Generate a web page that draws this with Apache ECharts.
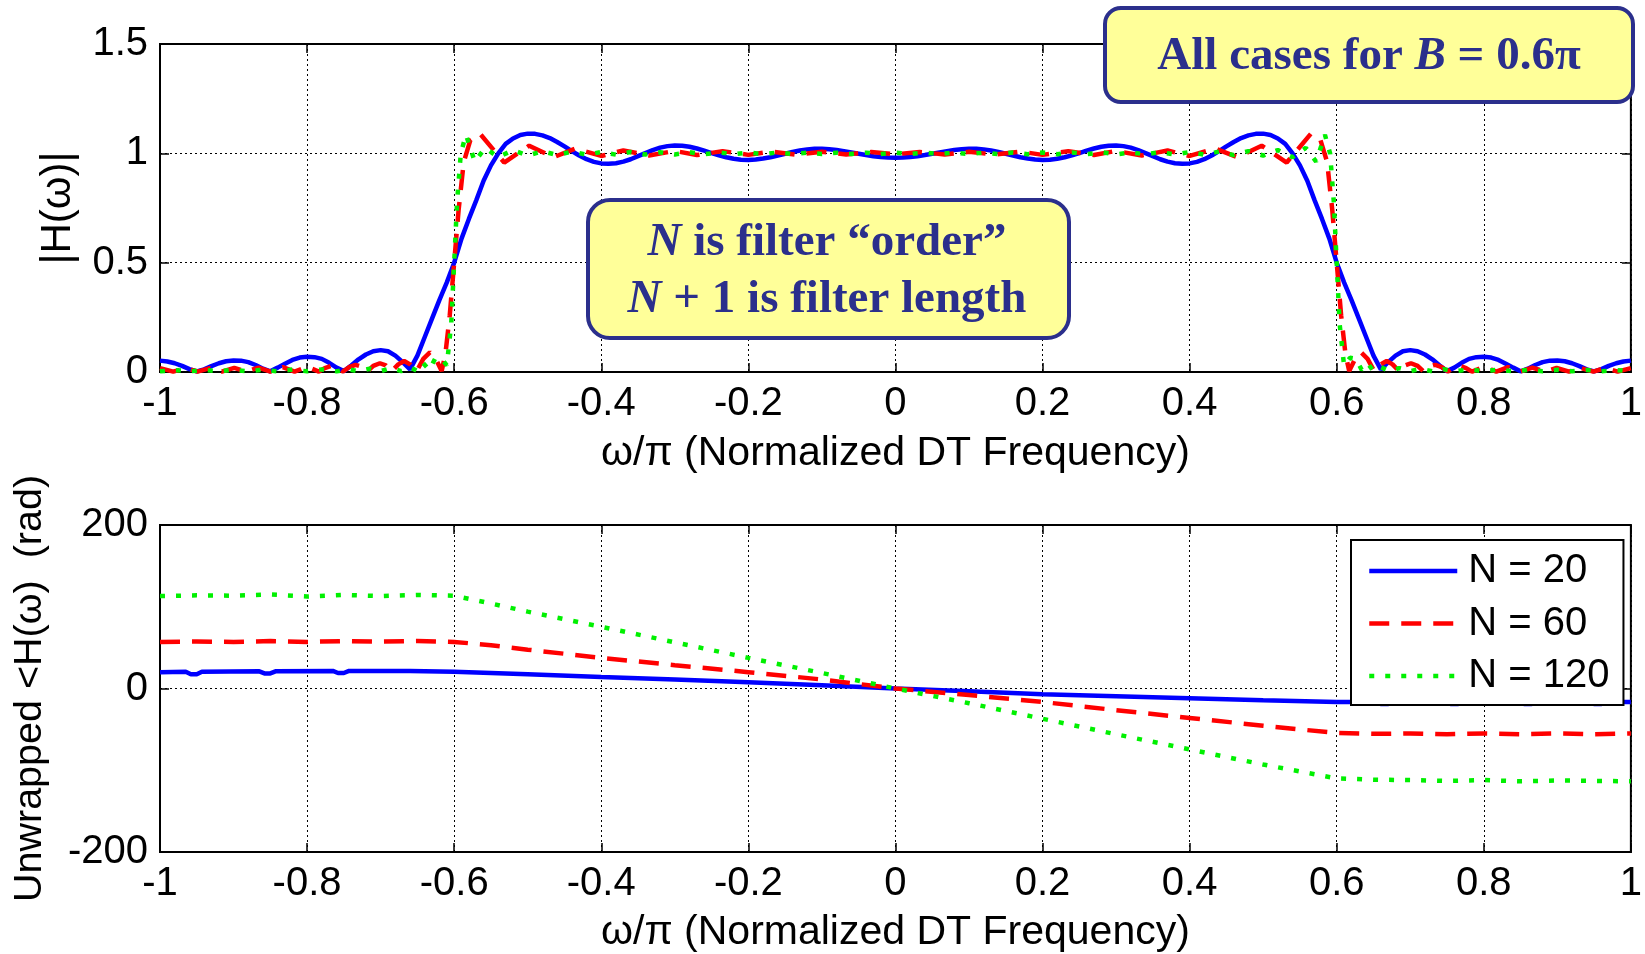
<!DOCTYPE html>
<html>
<head>
<meta charset="utf-8">
<title>FIR lowpass responses, B = 0.6π</title>
<script src="https://cdn.jsdelivr.net/npm/echarts@6/dist/echarts.min.js"></script>
<style>
  html, body { margin: 0; padding: 0; background: #ffffff; }
  #chart { width: 1645px; height: 954px; }
</style>
</head>
<body>
<div id="chart"></div>
<script>
// ---- axis ticks -----------------------------------------------------------
const freqTickLabels = ['-1', '-0.8', '-0.6', '-0.4', '-0.2', '0', '0.2', '0.4', '0.6', '0.8', '1'];
const magTickLabels = ['0', '0.5', '1', '1.5'];
const phaseTickLabels = ['-200', '0', '200'];

// ---- series names ---------------------------------------------------------
const seriesNames = ['N = 20', 'N = 60', 'N = 120'];

// ---- |H(w)| for N = 20, sampled every 0.01 from w/pi = -1 to 1 -----------
const mag20 = [
  0.052,0.048,0.040,0.028,0.013,0.003,0.012,0.027,0.040,0.049,
  0.053,0.052,0.045,0.032,0.015,0.003,0.020,0.038,0.055,0.066,
  0.070,0.068,0.060,0.042,0.020,0.004,0.030,0.058,0.080,0.095,
  0.100,0.095,0.075,0.045,0.012,0.075,0.160,0.245,0.330,0.410,
  0.500,0.610,0.700,0.785,0.875,0.945,1.000,1.043,1.068,1.084,
  1.090,1.089,1.082,1.070,1.052,1.032,1.010,0.990,0.973,0.961,
  0.954,0.952,0.955,0.962,0.973,0.987,1.001,1.015,1.026,1.033,
  1.036,1.035,1.030,1.022,1.012,1.001,0.991,0.982,0.975,0.971,
  0.970,0.972,0.976,0.982,0.990,0.998,1.006,1.013,1.018,1.021,
  1.021,1.019,1.015,1.010,1.004,0.998,0.992,0.987,0.983,0.981,
  0.980,
  0.981,0.983,0.987,0.992,0.998,1.004,1.010,1.015,1.019,
  1.021,1.021,1.018,1.013,1.006,0.998,0.990,0.982,0.976,0.972,
  0.970,0.971,0.975,0.982,0.991,1.001,1.012,1.022,1.030,1.035,
  1.036,1.033,1.026,1.015,1.001,0.987,0.973,0.962,0.955,0.952,
  0.954,0.961,0.973,0.990,1.010,1.032,1.052,1.070,1.082,1.089,
  1.090,1.084,1.068,1.043,1.000,0.945,0.875,0.785,0.700,0.610,
  0.500,0.410,0.330,0.245,0.160,0.075,0.012,0.045,0.075,0.095,
  0.100,0.095,0.080,0.058,0.030,0.004,0.020,0.042,0.060,0.068,
  0.070,0.066,0.055,0.038,0.020,0.003,0.015,0.032,0.045,0.052,
  0.053,0.049,0.040,0.027,0.012,0.003,0.013,0.028,0.040,0.048,
  0.052
];
const mag20Start = -1;
const mag20Step = 0.01;

// ---- |H(w)| for N = 60, [w/pi, magnitude] ---------------------------------
const mag60 = [
  [-1.000,0.018],[-0.982,0.002],[-0.965,0.018],[-0.949,0.002],[-0.932,0.018],
  [-0.916,0.002],[-0.899,0.019],[-0.883,0.002],[-0.866,0.020],[-0.850,0.002],
  [-0.833,0.022],[-0.817,0.002],[-0.800,0.024],[-0.784,0.002],[-0.776,0.018],
  [-0.767,0.028],[-0.759,0.020],[-0.751,0.002],[-0.743,0.022],[-0.734,0.033],
  [-0.726,0.025],[-0.718,0.003],[-0.710,0.028],[-0.701,0.040],[-0.693,0.030],
  [-0.685,0.003],[-0.676,0.035],[-0.668,0.050],[-0.660,0.035],[-0.651,0.004],
  [-0.642,0.060],[-0.633,0.090],[-0.625,0.060],[-0.617,0.005],[-0.612,0.080],
  [-0.606,0.260],[-0.600,0.500],[-0.594,0.740],[-0.587,0.960],[-0.578,1.060],
  [-0.565,1.090],[-0.532,0.958],[-0.498,1.035],[-0.465,0.982],[-0.435,1.022],
  [-0.400,0.988],[-0.370,1.013],[-0.335,0.990],[-0.300,1.011],[-0.270,0.992],
  [-0.235,1.010],[-0.200,0.993],[-0.170,1.008],[-0.135,0.994],[-0.100,1.007],
  [-0.067,0.995],[-0.033,1.006],[0.000,0.996],
  [0.033,1.006],[0.067,0.995],[0.100,1.007],[0.135,0.994],[0.170,1.008],
  [0.200,0.993],[0.235,1.010],[0.270,0.992],[0.300,1.011],[0.335,0.990],
  [0.370,1.013],[0.400,0.988],[0.435,1.022],[0.465,0.982],[0.498,1.035],
  [0.532,0.958],[0.565,1.090],[0.578,1.060],[0.587,0.960],[0.594,0.740],
  [0.600,0.500],[0.606,0.260],[0.612,0.080],[0.617,0.005],[0.625,0.060],
  [0.633,0.090],[0.642,0.060],[0.651,0.004],[0.660,0.035],[0.668,0.050],
  [0.676,0.035],[0.685,0.003],[0.693,0.030],[0.701,0.040],[0.710,0.028],
  [0.718,0.003],[0.726,0.025],[0.734,0.033],[0.743,0.022],[0.751,0.002],
  [0.759,0.020],[0.767,0.028],[0.776,0.018],[0.784,0.002],[0.800,0.024],
  [0.817,0.002],[0.833,0.022],[0.850,0.002],[0.866,0.020],[0.883,0.002],
  [0.899,0.019],[0.916,0.002],[0.932,0.018],[0.949,0.002],[0.965,0.018],
  [0.982,0.002],[1.000,0.018]
];

// ---- |H(w)| for N = 120, [w/pi, magnitude] --------------------------------
const mag120 = [
  [-1.000,0.003],[-0.980,0.009],[-0.960,0.003],[-0.940,0.009],[-0.920,0.003],
  [-0.900,0.010],[-0.880,0.003],[-0.860,0.010],[-0.840,0.003],[-0.820,0.011],
  [-0.800,0.003],[-0.780,0.012],[-0.760,0.003],[-0.745,0.013],[-0.730,0.003],
  [-0.715,0.015],[-0.700,0.004],[-0.685,0.018],[-0.672,0.004],[-0.660,0.022],
  [-0.650,0.004],[-0.642,0.040],[-0.634,0.010],[-0.626,0.060],[-0.618,0.065],
  [-0.610,0.030],[-0.604,0.220],[-0.600,0.500],[-0.596,0.780],[-0.591,1.000],
  [-0.584,1.085],[-0.572,0.962],[-0.558,1.025],[-0.540,0.982],[-0.520,1.015],
  [-0.500,0.990],[-0.480,1.010],[-0.460,0.992],[-0.440,1.008],[-0.420,0.994],
  [-0.400,1.006],[-0.380,0.994],[-0.360,1.006],[-0.340,0.995],[-0.320,1.005],
  [-0.300,0.995],[-0.280,1.005],[-0.260,0.996],[-0.240,1.004],[-0.220,0.996],
  [-0.200,1.004],[-0.180,0.996],[-0.160,1.004],[-0.140,0.997],[-0.120,1.003],
  [-0.100,0.997],[-0.080,1.003],[-0.060,0.997],[-0.040,1.003],[-0.020,0.997],
  [0.000,1.003],
  [0.020,0.997],[0.040,1.003],[0.060,0.997],[0.080,1.003],[0.100,0.997],
  [0.120,1.003],[0.140,0.997],[0.160,1.004],[0.180,0.996],[0.200,1.004],
  [0.220,0.996],[0.240,1.004],[0.260,0.996],[0.280,1.005],[0.300,0.995],
  [0.320,1.005],[0.340,0.995],[0.360,1.006],[0.380,0.994],[0.400,1.006],
  [0.420,0.994],[0.440,1.008],[0.460,0.992],[0.480,1.010],[0.500,0.990],
  [0.520,1.015],[0.540,0.982],[0.558,1.025],[0.572,0.962],[0.584,1.085],
  [0.591,1.000],[0.596,0.780],[0.600,0.500],[0.604,0.220],[0.610,0.030],
  [0.618,0.065],[0.626,0.060],[0.634,0.010],[0.642,0.040],[0.650,0.004],
  [0.660,0.022],[0.672,0.004],[0.685,0.018],[0.700,0.004],[0.715,0.015],
  [0.730,0.003],[0.745,0.013],[0.760,0.003],[0.780,0.012],[0.800,0.003],
  [0.820,0.011],[0.840,0.003],[0.860,0.010],[0.880,0.003],[0.900,0.010],
  [0.920,0.003],[0.940,0.009],[0.960,0.003],[0.980,0.009],[1.000,0.003]
];

// ---- unwrapped phase (rad), [w/pi, phase] ---------------------------------
const phase20 = [
  [-1.000,20.0],[-0.965,20.5],[-0.958,17.5],[-0.950,17.5],[-0.943,20.5],
  [-0.865,21.0],[-0.858,18.5],[-0.850,18.5],[-0.843,21.0],[-0.765,21.5],
  [-0.758,19.0],[-0.750,19.0],[-0.743,21.5],[-0.660,21.5],[-0.600,20.5],
  [-0.500,17.5],[-0.400,14.0],[-0.300,11.0],[-0.200,7.5],[-0.100,4.0],
  [0.000,0.0],[0.100,-3.5],[0.200,-7.0],[0.300,-9.5],[0.400,-12.0],
  [0.500,-14.5],[0.600,-16.5],[0.655,-16.5],[0.660,-19.0],[0.670,-19.0],
  [0.675,-16.5],[0.750,-16.5],[0.755,-19.0],[0.765,-19.0],[0.770,-16.5],
  [0.850,-16.5],[0.855,-19.0],[0.865,-19.0],[0.870,-16.5],[0.945,-16.5],
  [0.950,-19.0],[0.960,-19.0],[0.965,-16.5],[1.000,-16.5]
];
const phase60 = [
  [-1.00,57.0],[-0.95,57.5],[-0.90,57.0],[-0.85,58.0],[-0.80,57.0],
  [-0.75,58.0],[-0.70,57.5],[-0.65,58.0],[-0.60,57.0],[-0.55,53.0],
  [-0.50,47.5],[-0.40,37.5],[-0.30,28.5],[-0.20,20.0],[-0.10,11.0],
  [0.00,0.0],[0.10,-8.0],[0.20,-16.5],[0.30,-26.5],[0.40,-36.0],
  [0.50,-45.5],[0.60,-54.5],[0.65,-55.5],[0.70,-55.0],[0.75,-56.0],
  [0.80,-55.0],[0.85,-56.0],[0.90,-55.0],[0.95,-56.0],[1.00,-55.0]
];
const phase120 = [
  [-1.00,113.0],[-0.95,114.0],[-0.90,113.5],[-0.85,115.0],[-0.80,112.5],
  [-0.75,114.5],[-0.70,113.0],[-0.65,114.5],[-0.60,113.5],[-0.55,104.0],
  [-0.50,94.0],[-0.40,75.5],[-0.30,56.5],[-0.20,37.5],[-0.10,19.0],
  [0.00,0.0],[0.10,-18.0],[0.20,-37.0],[0.30,-56.0],[0.40,-74.5],
  [0.50,-93.0],[0.60,-110.0],[0.65,-111.5],[0.70,-112.0],[0.75,-113.0],
  [0.80,-112.0],[0.85,-113.5],[0.90,-112.5],[0.95,-113.0],[1.00,-113.5]
];

// ---- look ------------------------------------------------------------------
const sans = "'Liberation Sans', Arial, Helvetica, sans-serif";
const serif = "'Liberation Serif', 'Times New Roman', serif";
const navy = '#2b2f8c';
const lineStyles = [
  { color: '#0000ff', width: 4.5, type: 'solid' },
  { color: '#ff0000', width: 4.5, type: [20, 12] },
  { color: '#00f000', width: 4.5, type: [5, 11] }
];

const mag20Points = mag20.map((v, i) => [mag20Start + i * mag20Step, v]);

function labelFrom(list, min, step) {
  return v => list[Math.round((v - min) / step)] ?? '';
}

const gridLine = { show: true, lineStyle: { color: '#000', width: 1, type: [2, 3] } };
const tickIn = { show: true, inside: true, length: 9, lineStyle: { color: '#000', width: 1.5 } };
const labelText = { fontFamily: sans, fontSize: 40, color: '#000' };
const solidAxis = { show: true, onZero: false, lineStyle: { color: '#000', width: 2 } };

function freqAxis(gridIndex, gap) {
  return {
    type: 'value', gridIndex, min: -1, max: 1, interval: 0.2,
    name: 'ω/π (Normalized DT Frequency)', nameLocation: 'middle', nameGap: gap,
    nameTextStyle: { fontFamily: sans, fontSize: 41, color: '#000' },
    axisLine: solidAxis,
    axisTick: tickIn,
    axisLabel: Object.assign({ margin: 12, formatter: labelFrom(freqTickLabels, -1, 0.2) }, labelText),
    splitLine: gridLine
  };
}
function mirrorX(gridIndex) {
  return {
    type: 'value', gridIndex, min: -1, max: 1, interval: 0.2, position: 'top',
    axisLine: { show: false, onZero: false }, axisTick: tickIn, axisLabel: { show: false }, splitLine: { show: false }
  };
}
function mirrorY(gridIndex, min, max, interval) {
  return {
    type: 'value', gridIndex, min, max, interval, position: 'right',
    axisLine: { show: false, onZero: false }, axisTick: tickIn, axisLabel: { show: false }, splitLine: { show: false }
  };
}

function lineSeries(idx, xAxisIndex, yAxisIndex, data, clip) {
  return {
    type: 'line', name: seriesNames[idx], xAxisIndex, yAxisIndex, data,
    symbol: 'none', showSymbol: false, clip,
    lineStyle: lineStyles[idx], itemStyle: { color: lineStyles[idx].color },
    z: 3 + idx
  };
}

function richText(text, x, y) {
  const base = { fontFamily: serif, fontWeight: 'bold', fontSize: 47, fill: navy, color: navy };
  return {
    type: 'text', x, y, z: 101,
    style: {
      text, align: 'center', verticalAlign: 'middle',
      rich: { b: base, bi: Object.assign({}, base, { fontStyle: 'italic' }) }
    }
  };
}

const option = {
  animation: false,
  backgroundColor: '#ffffff',
  grid: [
    { left: 160, right: 11, top: 44, height: 328, show: true, borderColor: '#000', borderWidth: 2, backgroundColor: '#fff' },
    { left: 160, right: 11, top: 525, height: 327, show: true, borderColor: '#000', borderWidth: 2, backgroundColor: '#fff' }
  ],
  xAxis: [freqAxis(0, 61), freqAxis(1, 60), mirrorX(0), mirrorX(1)],
  yAxis: [
    {
      type: 'value', gridIndex: 0, min: 0, max: 1.5, interval: 0.5,
      name: '|H(ω)|', nameLocation: 'middle', nameGap: 81,
      nameTextStyle: { fontFamily: sans, fontSize: 42, color: '#000' },
      axisLine: solidAxis,
      axisTick: tickIn,
      axisLabel: Object.assign({ margin: 12, formatter: labelFrom(magTickLabels, 0, 0.5) }, labelText),
      splitLine: gridLine
    },
    {
      type: 'value', gridIndex: 1, min: -200, max: 200, interval: 200,
      name: 'Unwrapped <H(ω)  (rad)', nameLocation: 'middle', nameGap: 110,
      nameTextStyle: { fontFamily: sans, fontSize: 39.5, color: '#000' },
      axisLine: solidAxis,
      axisTick: tickIn,
      axisLabel: Object.assign({ margin: 12, formatter: labelFrom(phaseTickLabels, -200, 200) }, labelText),
      splitLine: gridLine
    },
    mirrorY(0, 0, 1.5, 0.5),
    mirrorY(1, -200, 200, 200)
  ],
  legend: {
    data: seriesNames.map((name, i) => ({
      name,
      itemStyle: { opacity: 0 },
      lineStyle: { color: lineStyles[i].color, width: 4.5, type: lineStyles[i].type }
    })),
    orient: 'vertical',
    left: 1351, top: 540,
    padding: [11, 14, 9, 16],
    itemWidth: 88, itemHeight: 20, itemGap: 12.5,
    backgroundColor: '#fff', borderColor: '#000', borderWidth: 2,
    selectedMode: false,
    textStyle: { fontFamily: sans, fontSize: 40, color: '#000', padding: [0, 0, 0, 6] }
  },
  series: [
    lineSeries(0, 0, 0, mag20Points, false),
    lineSeries(1, 0, 0, mag60, false),
    lineSeries(2, 0, 0, mag120, false),
    lineSeries(0, 1, 1, phase20, true),
    lineSeries(1, 1, 1, phase60, true),
    lineSeries(2, 1, 1, phase120, true)
  ],
  graphic: [
    { type: 'rect', z: 100, shape: { x: 1105, y: 8, width: 528, height: 94, r: 16 },
      style: { fill: '#ffff99', stroke: navy, lineWidth: 4 } },
    richText('{b|All cases for }{bi|B}{b| = 0.6π}', 1369, 57),
    { type: 'rect', z: 100, shape: { x: 588, y: 200, width: 481, height: 138, r: 22 },
      style: { fill: '#ffff99', stroke: navy, lineWidth: 4 } },
    richText('{bi|N}{b| is filter “order”}', 827, 243),
    richText('{bi|N}{b| + 1 is filter length}', 827, 300)
  ]
};

const chart = echarts.init(document.getElementById('chart'), null, { renderer: 'canvas' });
chart.setOption(option);
</script>
</body>
</html>
